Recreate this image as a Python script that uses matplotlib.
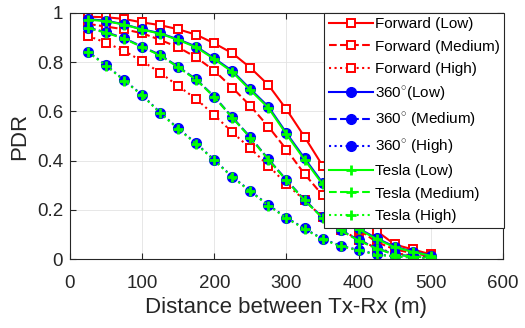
import matplotlib

matplotlib.use("Agg")
import matplotlib.pyplot as plt  # noqa: E402
from matplotlib.ticker import FormatStrFormatter, FuncFormatter  # noqa: E402

plt.rcParams["font.family"] = ["Liberation Sans", "DejaVu Sans"]
plt.rcParams["mathtext.fontset"] = "custom"
plt.rcParams["mathtext.rm"] = "Liberation Sans"

# distance between Tx and Rx (m)
dist = [25, 50, 75, 100, 125, 150, 175, 200, 225, 250,
        275, 300, 325, 350, 375, 400, 425, 450, 475, 500]

fwd_low = [0.984, 0.982, 0.975, 0.961, 0.950, 0.933, 0.911, 0.876, 0.836, 0.777,
           0.707, 0.608, 0.497, 0.380, 0.270, 0.170, 0.115, 0.060, 0.040, 0.020]
fwd_med = [0.955, 0.944, 0.933, 0.917, 0.890, 0.860, 0.819, 0.765, 0.696, 0.622,
           0.538, 0.445, 0.346, 0.260, 0.180, 0.120, 0.070, 0.040, 0.025, 0.012]
fwd_high = [0.906, 0.879, 0.845, 0.804, 0.757, 0.703, 0.650, 0.585, 0.515, 0.450,
            0.380, 0.305, 0.240, 0.170, 0.120, 0.080, 0.045, 0.025, 0.015, 0.008]

omni_low = [0.974, 0.968, 0.953, 0.933, 0.917, 0.892, 0.863, 0.815, 0.764, 0.690,
            0.619, 0.512, 0.410, 0.310, 0.210, 0.125, 0.085, 0.051, 0.031, 0.015]
omni_med = [0.940, 0.921, 0.897, 0.863, 0.829, 0.781, 0.730, 0.660, 0.576, 0.495,
            0.406, 0.322, 0.241, 0.170, 0.119, 0.078, 0.045, 0.020, 0.012, 0.008]
omni_high = [0.842, 0.788, 0.727, 0.667, 0.595, 0.531, 0.470, 0.403, 0.335, 0.277,
             0.220, 0.169, 0.125, 0.083, 0.055, 0.038, 0.020, 0.012, 0.008, 0.005]

tesla_low = [0.972, 0.966, 0.952, 0.932, 0.915, 0.890, 0.860, 0.812, 0.760, 0.686,
             0.614, 0.507, 0.404, 0.305, 0.206, 0.122, 0.082, 0.049, 0.030, 0.014]
tesla_med = [0.938, 0.919, 0.895, 0.861, 0.827, 0.779, 0.728, 0.658, 0.574, 0.493,
             0.404, 0.320, 0.239, 0.168, 0.117, 0.076, 0.043, 0.019, 0.011, 0.007]
tesla_high = [0.840, 0.786, 0.725, 0.665, 0.593, 0.529, 0.468, 0.401, 0.333, 0.275,
              0.218, 0.167, 0.123, 0.081, 0.053, 0.036, 0.019, 0.011, 0.007, 0.004]

labels = ["Forward (Low)", "Forward (Medium)", "Forward (High)",
          "360$^{\\circ}$(Low)", "360$^{\\circ}$ (Medium)", "360$^{\\circ}$ (High)",
          "Tesla (Low)", "Tesla (Medium)", "Tesla (High)"]

DARK = "#262626"
fig = plt.figure(figsize=(5.25, 3.28), dpi=100)
ax = fig.add_axes([0.1333, 0.2095, 0.8247, 0.7515])

styles = ["-", "--", ":"]
for ys, ls, lab in zip([fwd_low, fwd_med, fwd_high], styles, labels[0:3]):
    ax.plot(dist, ys, color="red", ls=ls, lw=1.5, marker="s", ms=5.5,
            mfc="white", mec="red", mew=1.4, label=lab)
for ys, ls, lab in zip([omni_low, omni_med, omni_high], styles, labels[3:6]):
    ax.plot(dist, ys, color="blue", ls=ls, lw=1.5, marker="o", ms=7,
            mfc="blue", mec="blue", label=lab)
for ys, ls, lab in zip([tesla_low, tesla_med, tesla_high], styles, labels[6:9]):
    ax.plot(dist, ys, color="#00ff00", ls=ls, lw=1.5, marker="+", ms=7,
            mew=2, label=lab)

ax.set_xlim(0, 600)
ax.set_ylim(0, 1)
ax.set_xticks(range(0, 601, 100))
ax.set_yticks([0, 0.2, 0.4, 0.6, 0.8, 1])
ax.yaxis.set_major_formatter(FuncFormatter(lambda v, p: f"{v:g}"))
ax.xaxis.set_major_formatter(FormatStrFormatter("%d"))
ax.grid(True, color="#e3e3e3", lw=0.6)
ax.set_axisbelow(True)
ax.tick_params(direction="in", top=True, right=True, length=4, width=0.8,
               labelsize=13.5, colors=DARK)
ax.tick_params(axis="x", pad=11)
ax.tick_params(axis="y", pad=5)
for s in ax.spines.values():
    s.set_color(DARK)
    s.set_linewidth(0.8)

ax.set_xlabel("Distance between Tx-Rx (m)", fontsize=16, color=DARK, labelpad=4)
ax.set_ylabel("PDR", fontsize=16, color=DARK, labelpad=5)

leg = ax.legend(loc="upper right", bbox_to_anchor=(1.003, 1.0), fontsize=11,
                handlelength=2.9, handletextpad=0.1, labelspacing=0.55,
                borderpad=0.3, borderaxespad=0, fancybox=False, framealpha=1,
                edgecolor=DARK)
leg.get_frame().set_linewidth(0.8)

fig.savefig("out.png", dpi=100)
plt.close(fig)
